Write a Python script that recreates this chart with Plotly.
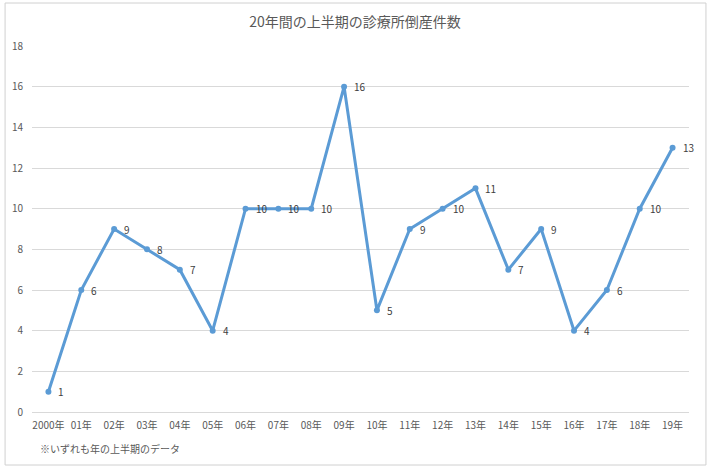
import plotly.graph_objects as go

years = ["2000年", "01年", "02年", "03年", "04年", "05年", "06年", "07年", "08年", "09年",
         "10年", "11年", "12年", "13年", "14年", "15年", "16年", "17年", "18年", "19年"]
counts = [1, 6, 9, 8, 7, 4, 10, 10, 10, 16, 5, 9, 10, 11, 7, 9, 4, 6, 10, 13]

title_text = "20年間の上半期の診療所倒産件数"
note_text = "※いずれも年の上半期のデータ"

font_family = "Noto Sans CJK JP"
text_gray = "#595959"
line_blue = "#5B9BD5"

fig = go.Figure()
fig.add_trace(go.Scatter(
    x=years,
    y=counts,
    mode="lines+markers",
    line=dict(color=line_blue, width=3),
    marker=dict(color=line_blue, size=6),
    showlegend=False,
))

# data labels, offset to the right of each point
for yr, v in zip(years, counts):
    fig.add_annotation(
        x=yr, y=v, text=str(v), showarrow=False,
        xanchor="left", yanchor="middle", xshift=8,
        font=dict(size=10, color="#404040", family=font_family),
    )

W, H = 710, 469
ml, mr, mt, mb = 30, 21, 46, 57

fig.update_layout(
    width=W, height=H,
    margin=dict(l=ml, r=mr, t=mt, b=mb),
    paper_bgcolor="white",
    plot_bgcolor="white",
    font=dict(family=font_family, color=text_gray, size=10),
    title=dict(text=title_text, x=0.5, xanchor="center", y=1 - 22 / H, yanchor="middle",
               font=dict(size=14, color=text_gray, family=font_family)),
    xaxis=dict(
        type="category",
        range=[-0.5, 19.5],
        showgrid=False,
        showline=False,
        zeroline=False,
        ticks="",
        ticklabelstandoff=6,
        tickfont=dict(size=10, color=text_gray),
    ),
    yaxis=dict(
        range=[0, 18],
        dtick=2,
        showgrid=True,
        gridcolor="#D9D9D9",
        gridwidth=1,
        zeroline=True,
        zerolinecolor="#D9D9D9",
        zerolinewidth=1,
        showline=False,
        ticks="",
        ticklabelstandoff=8,
        tickfont=dict(size=10, color=text_gray),
    ),
)

pw = W - ml - mr
ph = H - mt - mb


def px_x(x):
    return (x - ml) / pw


def px_y(y):
    return (H - mb - y) / ph


fig.add_annotation(
    text=note_text, xref="paper", yref="paper",
    x=px_x(36), y=px_y(448), xanchor="left", yanchor="middle",
    showarrow=False, font=dict(size=10, color=text_gray, family=font_family),
)

fig.add_shape(
    type="rect", xref="paper", yref="paper",
    x0=px_x(3), x1=px_x(706), y0=px_y(465), y1=px_y(3),
    line=dict(color="#D0D0D0", width=1),
)

fig.write_html("out.html", config={"displayModeBar": False},
               post_script="document.body.style.margin='0';")
